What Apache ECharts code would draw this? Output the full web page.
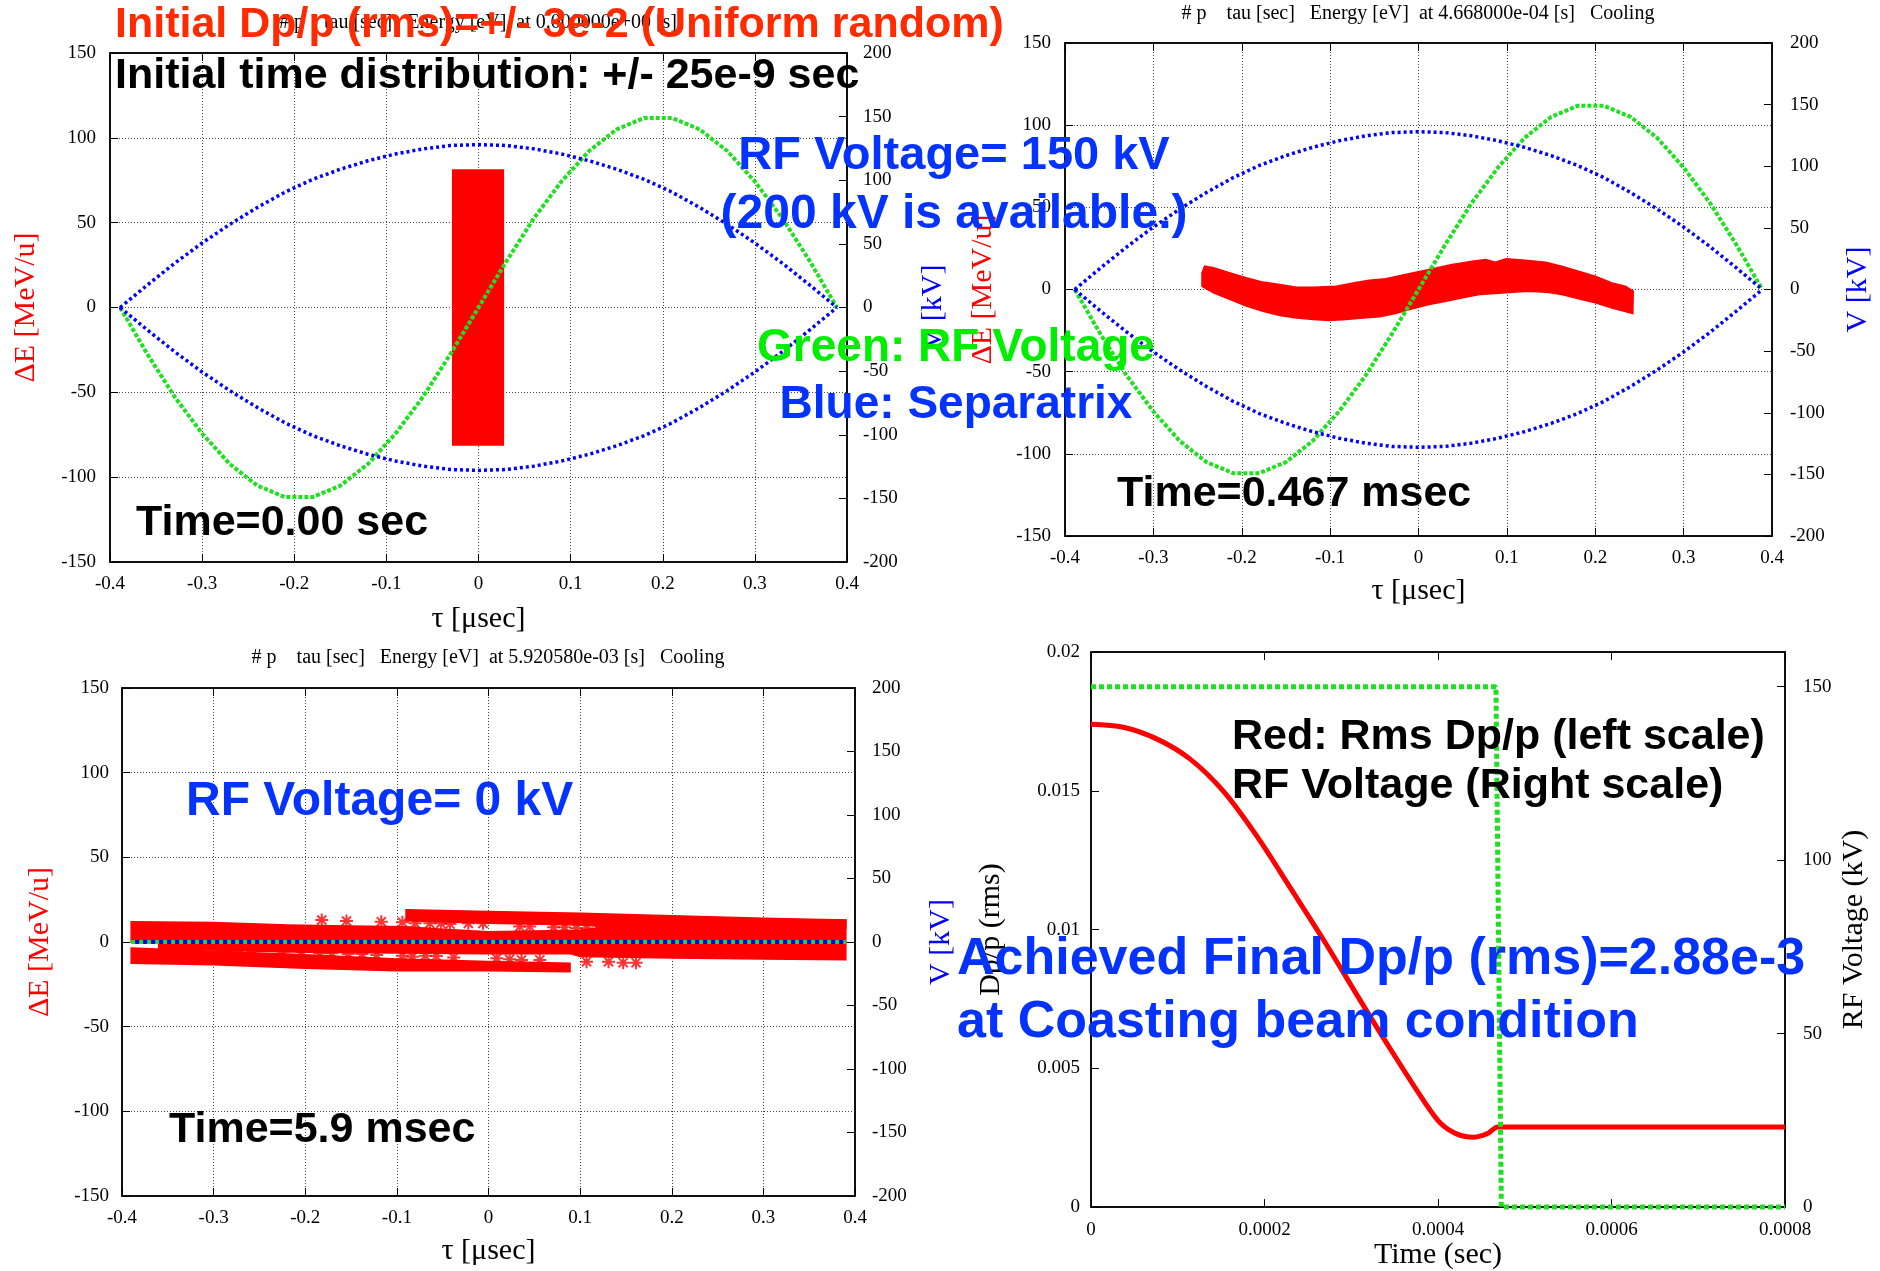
<!DOCTYPE html>
<html><head><meta charset="utf-8">
<script src="https://cdn.jsdelivr.net/npm/echarts/dist/echarts.min.js"></script>
<style>html,body{margin:0;padding:0;background:#fff}#c{width:1880px;height:1271px}</style>
</head><body><div id="c"></div>
<script>
// ---------------- DATA ----------------
const tauAxis = [-0.4, 0.4, 0.1];          // tau [usec]
const dEAxis  = [-150, 150, 50];           // dE [MeV/u]
const vAxis   = [-200, 200, 50];           // V [kV]
const timeAxis = [0, 0.0008, 0.0002];      // Time (sec)
const dppAxis  = [0, 0.02, 0.005];         // Dp/p (rms)
const rfAxis   = [0, 160, 50];             // RF Voltage (kV)

// separatrix (blue) and RF voltage (green), panels 1-2
const sepTau   = [-0.389,-0.36,-0.33,-0.30,-0.27,-0.24,-0.21,-0.18,-0.15,-0.12,-0.09,-0.06,-0.03,0,0.03,0.06,0.09,0.12,0.15,0.18,0.21,0.24,0.27,0.30,0.33,0.36,0.389];
const sepUpper = [0,13,26,38,49,59,68,75.5,81.5,86.5,90.5,93.5,95.5,96,95.5,93.5,90.5,86.5,81.5,75.5,68,59,49,38,26,13,0];
const sepLower = [0,-13,-26,-38,-49,-59,-68,-75.5,-81.5,-86.5,-90.5,-93.5,-95.5,-96,-95.5,-93.5,-90.5,-86.5,-81.5,-75.5,-68,-59,-49,-38,-26,-13,0];
const rfVolt   = [0,-36,-70,-99,-123,-140,-149,-149,-140,-123,-99,-70,-36,0,36,70,99,123,140,149,149,140,123,99,70,36,0];

// particle cloud outlines
const p1Beam = [[-0.028,81],[0.027,81],[0.027,-81],[-0.028,-81]];
const p2BeamTop = [[-0.245,10.1],[-0.242,14.2],[-0.232,13.2],[-0.213,10.1],[-0.195,7.1],[-0.176,4.5],[-0.157,3.0],[-0.138,1.4],[-0.119,1.4],[-0.093,2.0],[-0.074,4.0],[-0.056,5.7],[-0.037,6.5],[-0.007,10.1],[0.016,12.6],[0.038,15.2],[0.061,17.2],[0.076,18.3],[0.087,16.6],[0.099,18.7],[0.121,17.8],[0.144,16.6],[0.162,14.2],[0.181,11.2],[0.200,8.1],[0.219,4.0],[0.234,2.0],[0.243,-1.0],[0.2425,-14.6]];
const p2BeamBottom = [[0.219,-11.2],[0.200,-8.1],[0.181,-5.7],[0.162,-3.0],[0.144,-1.6],[0.125,-1.0],[0.106,-1.6],[0.087,-2.4],[0.069,-3.0],[0.050,-5.1],[0.031,-7.1],[0.012,-9.1],[-0.007,-11.8],[-0.026,-14.6],[-0.044,-16.6],[-0.063,-17.4],[-0.082,-18.3],[-0.101,-18.9],[-0.119,-18.3],[-0.138,-17.4],[-0.157,-15.8],[-0.176,-13.2],[-0.195,-10.1],[-0.213,-6.1],[-0.232,-2.0],[-0.245,2.0]];
const p3BandA = [[-0.39,12],[-0.30,11.5],[-0.22,10],[-0.15,9.5],[-0.09,9],[-0.05,7.5],[0,6],[0.10,7],[0.13,9],[0.20,11],[0.30,12.5],[0.39,13],[0.39,0],[-0.39,0]];
const p3BandB = [[-0.09,19],[0,18],[0.10,17],[0.20,15.5],[0.30,14],[0.39,13],[0.39,8],[0.20,9],[0.13,9],[0.10,10],[0,11],[-0.09,12.5]];
const p3BandC = [[-0.36,0],[0.39,0],[0.39,-10.5],[0.30,-10],[0.20,-9.5],[0.10,-8.5],[0.09,-7],[0,-7],[-0.20,-6],[-0.36,-4]];
const p3BandD = [[-0.39,-3.5],[-0.30,-5.5],[-0.20,-7.5],[-0.10,-10],[0,-11.5],[0.089,-12.5],[0.089,-17.5],[0,-17],[-0.10,-17],[-0.20,-15.5],[-0.30,-13.5],[-0.39,-12.5]];
const p3StrayTau = [-0.182,-0.155,-0.117,-0.094,-0.080,-0.064,-0.052,-0.042,-0.022,-0.006,-0.275,-0.257,-0.224,-0.204,-0.184,-0.171,-0.153,-0.138,-0.122,-0.094,-0.083,-0.069,-0.057,-0.038,0.034,0.045,0.071,0.083,0.096,0.107,0.120,0.147,0.176,0.198,0.213,0.289,0.344,0.009,0.023,0.036,0.056,0.107,0.131,0.147,0.161];
const p3StrayDE  = [13.0,12.4,12.0,11.6,11.0,11.0,11.0,10.6,11.0,11.0,-5.3,-5.3,-5.7,-5.7,-6.7,-6.7,-7.1,-7.1,-7.7,-8.1,-8.7,-8.1,-8.3,-9.1,9.1,9.1,8.7,8.7,8.1,8.1,7.5,7.5,7.1,6.7,6.1,5.1,4.5,-9.6,-10.2,-10.6,-10.6,-11.6,-11.6,-12.2,-12.2];
const p3LineTau = [-0.39, 0.39];
const p3LineVal = [0, 0];

// panel 4
const dppTime = [0,0.0000372,0.0000757,0.000114,0.000153,0.000192,0.000230,0.000269,0.000307,0.000346,0.000384,0.000403,0.000422,0.000442,0.000457,0.000469,0.0008];
const dppRms  = [0.01740,0.01729,0.01687,0.01615,0.01497,0.01333,0.01149,0.00958,0.00762,0.00565,0.00381,0.00302,0.00263,0.00252,0.00265,0.00289,0.00289];
const rfTime  = [0, 0.0004668, 0.000473, 0.0008];
const rfLevel = [150, 150, 0, 0];

// ---------------- LAYOUT ----------------
const SERIF = '"Liberation Serif", "Times New Roman", serif';
const SANS = '"Liberation Sans", Arial, sans-serif';
const RED = '#ff0000', BLUE = '#0000ff', GREEN = '#1ee01e', TBLUE = '#0433ff';

const grids = [
  {left:110, top:53, width:737, height:509},
  {left:1065, top:43, width:707, height:493},
  {left:122, top:688, width:733, height:508},
  {left:1091, top:652, width:694, height:562}
];

const zip = (a, b) => a.map((v, i) => [v, b[i]]);
const fmtTau = v => String(Math.round(v * 10) / 10);

function xAx(g, range, fmt, nameText, gap) {
  return {
    type:'value', gridIndex:g, min:range[0], max:range[1], interval:range[2],
    name:nameText, nameLocation:'middle', nameGap:gap,
    nameTextStyle:{fontFamily:SERIF, fontSize:30, color:'#000'},
    axisLine:{show:true, onZero:false, lineStyle:{color:'#000', width:1.5}},
    axisTick:{inside:true, length:8, lineStyle:{color:'#000', width:1}},
    axisLabel:{fontFamily:SERIF, fontSize:19, color:'#000', margin:13, formatter:fmt},
    splitLine:{show: g < 3, lineStyle:{color:'#444', width:1, type:[1,2]}}
  };
}
function xTop(g, range) {
  return {
    type:'value', gridIndex:g, position:'top', min:range[0], max:range[1], interval:range[2],
    axisLine:{show:true, onZero:false, lineStyle:{color:'#000', width:1.5}},
    axisTick:{inside:true, length:8, lineStyle:{color:'#000'}},
    axisLabel:{show:false}, splitLine:{show:false}
  };
}
function yAx(g, range, pos, nameText, nameColor, gap, grid, fmt, margin) {
  return {
    type:'value', gridIndex:g, position:pos, min:range[0], max:range[1], interval:range[2],
    name:nameText, nameLocation:'middle', nameGap:gap,
    nameTextStyle:{fontFamily:SERIF, fontSize:30, color:nameColor},
    axisLine:{show:true, onZero:false, lineStyle:{color:'#000', width:1.5}},
    axisTick:{inside:true, length:8, lineStyle:{color:'#000'}},
    axisLabel:{fontFamily:SERIF, fontSize:19, color:'#000', margin:margin, formatter:fmt, showMaxLabel: !(g === 3 && pos === 'right')},
    splitLine:{show:grid, lineStyle:{color:'#444', width:1, type:[1,2]}}
  };
}

const xAxes = [
  xAx(0, tauAxis, fmtTau, 'τ [μsec]', 42), xTop(0, tauAxis),
  xAx(1, tauAxis, fmtTau, 'τ [μsec]', 40), xTop(1, tauAxis),
  xAx(2, tauAxis, fmtTau, 'τ [μsec]', 40), xTop(2, tauAxis),
  xAx(3, timeAxis, v => v === 0 ? '0' : v.toFixed(4), 'Time (sec)', 29), xTop(3, timeAxis)
];
const yAxes = [
  yAx(0, dEAxis, 'left', 'ΔE [MeV/u]', RED, 69, true, null, 14),
  yAx(0, vAxis, 'right', 'V [kV]', BLUE, 71, false, null, 16),
  yAx(1, dEAxis, 'left', 'ΔE [MeV/u]', RED, 67, true, null, 14),
  yAx(1, vAxis, 'right', 'V [kV]', BLUE, 71, false, null, 18),
  yAx(2, dEAxis, 'left', 'ΔE [MeV/u]', RED, 67, true, null, 13),
  yAx(2, vAxis, 'right', 'V [kV]', BLUE, 71, false, null, 17),
  yAx(3, dppAxis, 'left', 'Dp/p (rms)', '#000', 85, false, v => v === 0 ? '0' : String(+v.toFixed(3)), 11),
  yAx(3, rfAxis, 'right', 'RF Voltage (kV)', '#000', 54, false, null, 18)
];

function beam(poly, xi, yi) {
  return {
    type:'custom', xAxisIndex:xi, yAxisIndex:yi, z:2, silent:true,
    data:[poly[0]],
    renderItem:(params, api) => ({
      type:'polygon',
      shape:{points: poly.map(p => api.coord(p))},
      style:{fill:RED, stroke:RED, lineWidth:1.5}
    })
  };
}
function line(data, xi, yi, color, width, dash, z, extra) {
  return Object.assign({
    type:'line', xAxisIndex:xi, yAxisIndex:yi, data:data, symbol:'none', showSymbol:false, z:z,
    lineStyle:{color:color, width:width, type:dash}, silent:true
  }, extra || {});
}

const sepUp = zip(sepTau, sepUpper), sepLo = zip(sepTau, sepLower), rfW = zip(sepTau, rfVolt);
const series = [
  beam(p1Beam, 0, 0),
  line(rfW, 0, 1, GREEN, 4, [4,2], 4),
  line(sepUp, 0, 0, BLUE, 3.5, [3,3], 5),
  line(sepLo, 0, 0, BLUE, 3.5, [3,3], 5),

  beam(p2BeamTop.concat(p2BeamBottom), 2, 2),
  line(rfW, 2, 3, GREEN, 4, [4,2], 4),
  line(sepUp, 2, 2, BLUE, 3.5, [3,3], 5),
  line(sepLo, 2, 2, BLUE, 3.5, [3,3], 5),

  beam(p3BandA, 4, 4), beam(p3BandB, 4, 4), beam(p3BandC, 4, 4), beam(p3BandD, 4, 4),
  {type:'scatter', xAxisIndex:4, yAxisIndex:4, z:3, silent:true, data:zip(p3StrayTau, p3StrayDE),
   symbol:'path://M5 0L5 10M0 5L10 5M1.5 1.5L8.5 8.5M8.5 1.5L1.5 8.5', symbolSize:13,
   itemStyle:{color:RED, borderColor:RED, borderWidth:2}},
  line(zip(p3LineTau, p3LineVal), 4, 5, GREEN, 4, [4,4], 4),
  line(zip(p3LineTau, p3LineVal), 4, 4, BLUE, 4, [4,4], 5, {lineStyle:{color:BLUE, width:4, type:[4,4], dashOffset:4}}),

  line(zip(dppTime, dppRms), 6, 6, RED, 5, 'solid', 4, {smooth:0.3}),
  line(zip(rfTime, rfLevel), 6, 7, GREEN, 5, [5,3], 5, {clip:false})
];

// text annotations: x, baseline y, font size
const notes = [
  ['Initial Dp/p (rms)=+/- 3e-2 (Uniform random)', 115, 40.5, 43, '#ff2a00', 'left'],
  ['Initial time distribution: +/- 25e-9 sec', 115, 91.5, 43, '#000', 'left'],
  ['RF Voltage= 150 kV', 954, 172, 47, TBLUE, 'center'],
  ['(200 kV is available.)', 954, 231, 48, TBLUE, 'center'],
  ['Green: RF Voltage', 956, 364, 46, '#00ee00', 'center'],
  ['Blue: Separatrix', 956, 421, 46, TBLUE, 'center'],
  ['Time=0.00 sec', 136, 538, 43, '#000', 'left'],
  ['Time=0.467 msec', 1117, 509, 43, '#000', 'left'],
  ['RF Voltage= 0 kV', 186, 818, 48, TBLUE, 'left'],
  ['Time=5.9 msec', 169, 1145, 43, '#000', 'left'],
  ['Red: Rms Dp/p (left scale)', 1232, 752, 43, '#000', 'left'],
  ['RF Voltage (Right scale)', 1232, 801, 43, '#000', 'left'],
  ['Achieved Final Dp/p (rms)=2.88e-3', 957, 978, 52, TBLUE, 'left'],
  ['at Coasting beam condition', 957, 1041, 52, TBLUE, 'left']
];
const titles = [
  ['# p    tau [sec]   Energy [eV]  at 0.000000e+00 [s]', 478, 23],
  ['# p    tau [sec]   Energy [eV]  at 4.668000e-04 [s]   Cooling', 1418, 14],
  ['# p    tau [sec]   Energy [eV]  at 5.920580e-03 [s]   Cooling', 488, 658]
];

const graphic = titles.map(t => ({
  type:'text', x:t[1], y:t[2], z:50, silent:true,
  style:{text:t[0], font:'20px ' + SERIF, fill:'#000', textAlign:'center', textVerticalAlign:'middle', verticalAlign:'middle'}
})).concat(notes.map(n => ({
  type:'text', x:n[1], y:n[2] - 0.3465 * n[3], z:100, silent:true,
  style:{text:n[0], font:'bold ' + n[3] + 'px ' + SANS, fill:n[4], textAlign:n[5], textVerticalAlign:'middle', verticalAlign:'middle'}
})));

const chart = echarts.init(document.getElementById('c'), null, {renderer:'canvas'});
chart.setOption({
  backgroundColor:'#fff',
  animation:false,
  textStyle:{fontFamily:SERIF},
  grid: grids.map(g => Object.assign({show:true, borderColor:'#000', borderWidth:1.5, backgroundColor:'transparent', containLabel:false}, g)),
  xAxis: xAxes,
  yAxis: yAxes,
  series: series,
  graphic: graphic
});
</script></body></html>
